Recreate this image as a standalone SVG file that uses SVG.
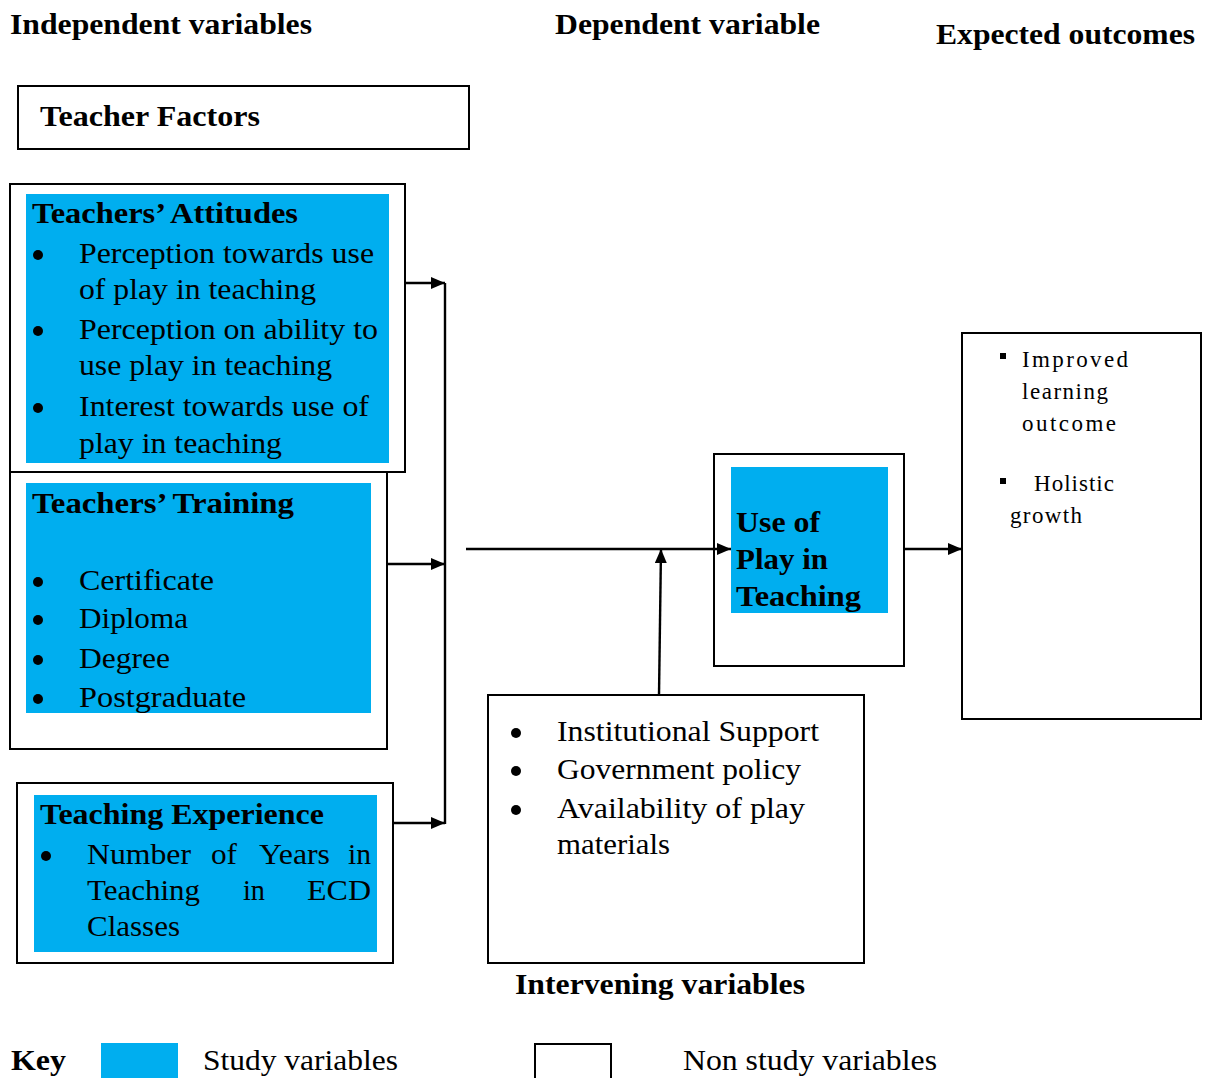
<svg xmlns="http://www.w3.org/2000/svg" width="1213" height="1078" viewBox="0 0 1213 1078">
<defs>
<style>
.t{font-family:"Liberation Serif","Times New Roman",serif;font-size:30px;fill:#000}
.b{font-weight:bold}
.s{font-size:23px}
.box{fill:#fff;stroke:#000;stroke-width:2}
.blue{fill:#00AEEF}
.ln{stroke:#000;stroke-width:2.4;fill:none}
</style>
<marker id="ah" viewBox="0 0 14 12" refX="14" refY="6" markerWidth="14" markerHeight="12" markerUnits="userSpaceOnUse" orient="auto">
<path d="M0,0 L14,6 L0,12 z" fill="#000"/>
</marker>
</defs>
<rect width="1213" height="1078" fill="#fff"/>

<g id="headers">
<text class="t b" x="10" y="34" textLength="302" lengthAdjust="spacingAndGlyphs">Independent variables</text>
<text class="t b" x="555" y="34" textLength="265" lengthAdjust="spacingAndGlyphs">Dependent variable</text>
<text class="t b" x="936" y="44" textLength="259" lengthAdjust="spacingAndGlyphs">Expected outcomes</text>
</g>

<g id="teacher-factors">
<rect class="box" x="18" y="86" width="451" height="63"/>
<text class="t b" x="40" y="126" textLength="220" lengthAdjust="spacingAndGlyphs">Teacher Factors</text>
</g>

<g id="teachers-attitudes">
<rect class="box" x="10" y="184" width="395" height="288"/>
<rect class="blue" x="26" y="194" width="363" height="269"/>
<text class="t b" x="32" y="223" textLength="266" lengthAdjust="spacingAndGlyphs">Teachers’ Attitudes</text>
<circle cx="38" cy="255" r="5"/>
<text class="t" x="79" y="263" textLength="295" lengthAdjust="spacingAndGlyphs">Perception towards use</text>
<text class="t" x="79" y="299" textLength="237" lengthAdjust="spacingAndGlyphs">of play in teaching</text>
<circle cx="38" cy="331" r="5"/>
<text class="t" x="79" y="339" textLength="299" lengthAdjust="spacingAndGlyphs">Perception on ability to</text>
<text class="t" x="79" y="375" textLength="253" lengthAdjust="spacingAndGlyphs">use play in teaching</text>
<circle cx="38" cy="408" r="5"/>
<text class="t" x="79" y="416" textLength="290" lengthAdjust="spacingAndGlyphs">Interest towards use of</text>
<text class="t" x="79" y="453" textLength="203" lengthAdjust="spacingAndGlyphs">play in teaching</text>
</g>

<g id="teachers-training">
<rect class="box" x="10" y="472" width="377" height="277"/>
<rect class="blue" x="26" y="483" width="345" height="230"/>
<text class="t b" x="32" y="513" textLength="262" lengthAdjust="spacingAndGlyphs">Teachers’ Training</text>
<circle cx="38" cy="582" r="5"/>
<text class="t" x="79" y="590" textLength="135" lengthAdjust="spacingAndGlyphs">Certificate</text>
<circle cx="38" cy="620" r="5"/>
<text class="t" x="79" y="628" textLength="109" lengthAdjust="spacingAndGlyphs">Diploma</text>
<circle cx="38" cy="660" r="5"/>
<text class="t" x="79" y="668" textLength="91" lengthAdjust="spacingAndGlyphs">Degree</text>
<circle cx="38" cy="699" r="5"/>
<text class="t" x="79" y="707" textLength="167" lengthAdjust="spacingAndGlyphs">Postgraduate</text>
</g>

<g id="teaching-experience">
<rect class="box" x="17" y="783" width="376" height="180"/>
<rect class="blue" x="34" y="795" width="343" height="157"/>
<text class="t b" x="40" y="824" textLength="284" lengthAdjust="spacingAndGlyphs">Teaching Experience</text>
<circle cx="46" cy="856" r="5"/>
<text class="t" x="87" y="864" textLength="104" lengthAdjust="spacingAndGlyphs">Number</text>
<text class="t" x="211" y="864" textLength="26" lengthAdjust="spacingAndGlyphs">of</text>
<text class="t" x="259" y="864" textLength="71" lengthAdjust="spacingAndGlyphs">Years</text>
<text class="t" x="348" y="864" textLength="23" lengthAdjust="spacingAndGlyphs">in</text>
<text class="t" x="87" y="900" textLength="113" lengthAdjust="spacingAndGlyphs">Teaching</text>
<text class="t" x="243" y="900" textLength="22" lengthAdjust="spacingAndGlyphs">in</text>
<text class="t" x="307" y="900" textLength="64" lengthAdjust="spacingAndGlyphs">ECD</text>
<text class="t" x="87" y="936" textLength="93" lengthAdjust="spacingAndGlyphs">Classes</text>
</g>

<g id="use-of-play">
<rect class="box" x="714" y="454" width="190" height="212"/>
<rect class="blue" x="731" y="467" width="157" height="146"/>
<text class="t b" x="736" y="532" textLength="84" lengthAdjust="spacingAndGlyphs">Use of</text>
<text class="t b" x="736" y="569" textLength="92" lengthAdjust="spacingAndGlyphs">Play in</text>
<text class="t b" x="736" y="606" textLength="125" lengthAdjust="spacingAndGlyphs">Teaching</text>
</g>

<g id="expected-outcomes">
<rect class="box" x="962" y="333" width="239" height="386"/>
<rect x="1000" y="353" width="6" height="6"/>
<text class="t s" x="1022" y="367" textLength="106" lengthAdjust="spacing">Improved</text>
<text class="t s" x="1022" y="399" textLength="86" lengthAdjust="spacing">learning</text>
<text class="t s" x="1022" y="431" textLength="94" lengthAdjust="spacing">outcome</text>
<rect x="1000" y="478" width="6" height="6"/>
<text class="t s" x="1034" y="491" textLength="80" lengthAdjust="spacing">Holistic</text>
<text class="t s" x="1010" y="523" textLength="72" lengthAdjust="spacing">growth</text>
</g>

<g id="intervening">
<rect class="box" x="488" y="695" width="376" height="268"/>
<circle cx="516" cy="733" r="5"/>
<text class="t" x="557" y="741" textLength="262" lengthAdjust="spacingAndGlyphs">Institutional Support</text>
<circle cx="516" cy="771" r="5"/>
<text class="t" x="557" y="779" textLength="244" lengthAdjust="spacingAndGlyphs">Government policy</text>
<circle cx="516" cy="810" r="5"/>
<text class="t" x="557" y="818" textLength="248" lengthAdjust="spacingAndGlyphs">Availability of play</text>
<text class="t" x="557" y="854" textLength="113" lengthAdjust="spacingAndGlyphs">materials</text>
<text class="t b" x="515" y="994" textLength="290" lengthAdjust="spacingAndGlyphs">Intervening variables</text>
</g>

<g id="connectors">
<line class="ln" x1="445" y1="283" x2="445" y2="824"/>
<line class="ln" x1="405" y1="283" x2="445" y2="283" marker-end="url(#ah)"/>
<line class="ln" x1="387" y1="564" x2="445" y2="564" marker-end="url(#ah)"/>
<line class="ln" x1="393" y1="823" x2="445" y2="823" marker-end="url(#ah)"/>
<line class="ln" x1="466" y1="549" x2="731" y2="549" marker-end="url(#ah)"/>
<line class="ln" x1="659" y1="695" x2="661" y2="549" marker-end="url(#ah)"/>
<line class="ln" x1="904" y1="549" x2="962" y2="549" marker-end="url(#ah)"/>
</g>

<g id="key">
<text class="t b" x="11" y="1070" textLength="55" lengthAdjust="spacingAndGlyphs">Key</text>
<rect class="blue" x="101" y="1043" width="77" height="36"/>
<text class="t" x="203" y="1070" textLength="195" lengthAdjust="spacingAndGlyphs">Study variables</text>
<rect class="box" x="535" y="1044" width="76" height="40"/>
<text class="t" x="683" y="1070" textLength="254" lengthAdjust="spacingAndGlyphs">Non study variables</text>
</g>
</svg>
